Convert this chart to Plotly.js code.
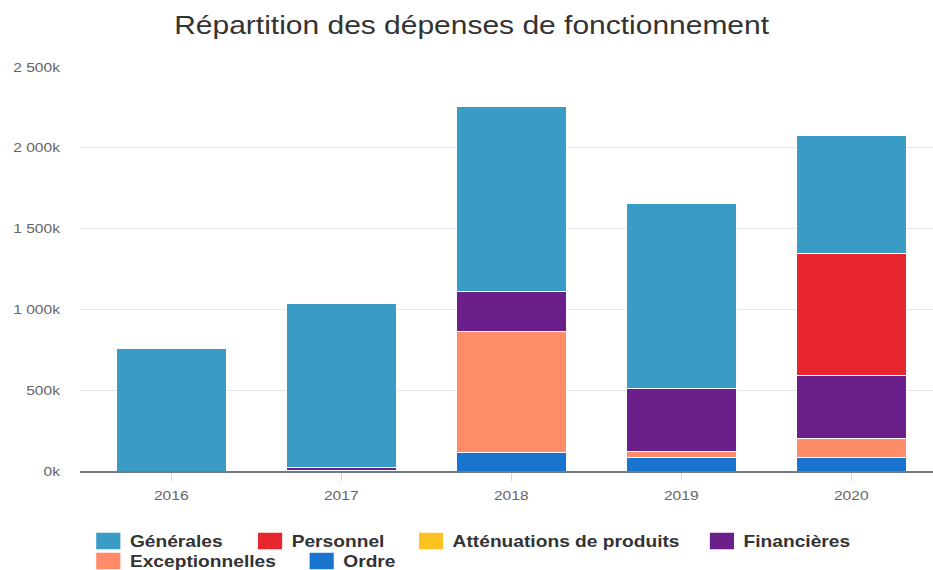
<!DOCTYPE html>
<html><head><meta charset="utf-8">
<script src="https://cdn.plot.ly/plotly-3.0.1.min.js"></script>
<style>
html,body{margin:0;padding:0;background:#fff;overflow:hidden;width:933px;height:570px}
#c{width:778px;height:570px;transform:scaleX(1.19923);transform-origin:0 0}
#c .legendpoints path{transform:translate(22px,0px) scale(1.83,1.5) !important}
</style>
</head><body><div id="c"></div>
<script>
const years = ["2016","2017","2018","2019","2020"];
const generales = [755000, 1020000, 1145000, 1147000, 731000];
const personnel = [0, 0, 0, 0, 753000];
const attenuations = [0, 0, 0, 0, 0];
const financieres = [0, 15000, 247000, 390000, 392000];
const exceptionnelles = [0, 4000, 749000, 34000, 116000];
const ordre = [0, 0, 115000, 85000, 85000];
const yTickVals = [0, 500000, 1000000, 1500000, 2000000, 2500000];
const yTickText = ["0k", "500k", "1 000k", "1 500k", "2 000k", "2 500k"];

// stacking order bottom -> top; each legend entry placed in its own legend box
const series = [
  {name: "Ordre", y: ordre, color: "#1874cd", legend: "legend6", lx: 0.3165, ly: 0.0456},
  {name: "Exceptionnelles", y: exceptionnelles, color: "#ff8c69", legend: "legend5", lx: 0.0878, ly: 0.0456},
  {name: "Financières", y: financieres, color: "#6b1f8a", legend: "legend4", lx: 0.7455, ly: 0.0807},
  {name: "Atténuations de produits", y: attenuations, color: "#fcc221", legend: "legend3", lx: 0.4337, ly: 0.0807},
  {name: "Personnel", y: personnel, color: "#e8262e", legend: "legend2", lx: 0.2612, ly: 0.0807},
  {name: "Générales", y: generales, color: "#3a9bc5", legend: "legend", lx: 0.0878, ly: 0.0807}
];
const data = series.map(s => ({
  type: "bar", name: s.name, x: years, y: s.y, legend: s.legend,
  marker: {color: s.color, line: {color: "#ffffff", width: 1}},
  hoverinfo: "x+y+name"
}));

const layout = {
  width: 778, height: 570,
  margin: {l: 67, r: 0, t: 67, b: 99},
  paper_bgcolor: "#fff", plot_bgcolor: "#fff",
  font: {family: "Liberation Sans, Arial, sans-serif", color: "#666"},
  title: {text: "Répartition des dépenses de fonctionnement", xref: "container", x: 0.5055, xanchor: "center",
          yref: "container", y: 0.955, yanchor: "middle",
          font: {size: 25, color: "#333", family: "Liberation Sans, Arial, sans-serif"}},
  barmode: "stack", bargap: 0.353,
  xaxis: {type: "category", range: [-0.535, 4.481], showgrid: false, showline: true,
          linecolor: "#707a88", linewidth: 2,
          ticks: "outside", ticklen: 8, tickcolor: "#ccd6eb", tickwidth: 1,
          tickfont: {size: 13, color: "#666"}, zeroline: false, ticklabelstandoff: 3},
  yaxis: {range: [0, 2500000], tickvals: yTickVals, ticktext: yTickText, showgrid: true,
          gridcolor: "#e6e6e6", gridwidth: 1, zeroline: false, showline: false,
          tickfont: {size: 13, color: "#666"}, ticklabelstandoff: 16},
  showlegend: true
};
series.forEach(s => {
  layout[s.legend] = {orientation: "h", xref: "container", x: s.lx, xanchor: "left",
    yref: "container", y: s.ly, yanchor: "top", traceorder: "normal",
    font: {size: 16, color: "#333", weight: "bold"}, itemwidth: 30,
    bgcolor: "rgba(0,0,0,0)"};
});
Plotly.newPlot("c", data, layout, {displayModeBar: false});
</script>
</body></html>
